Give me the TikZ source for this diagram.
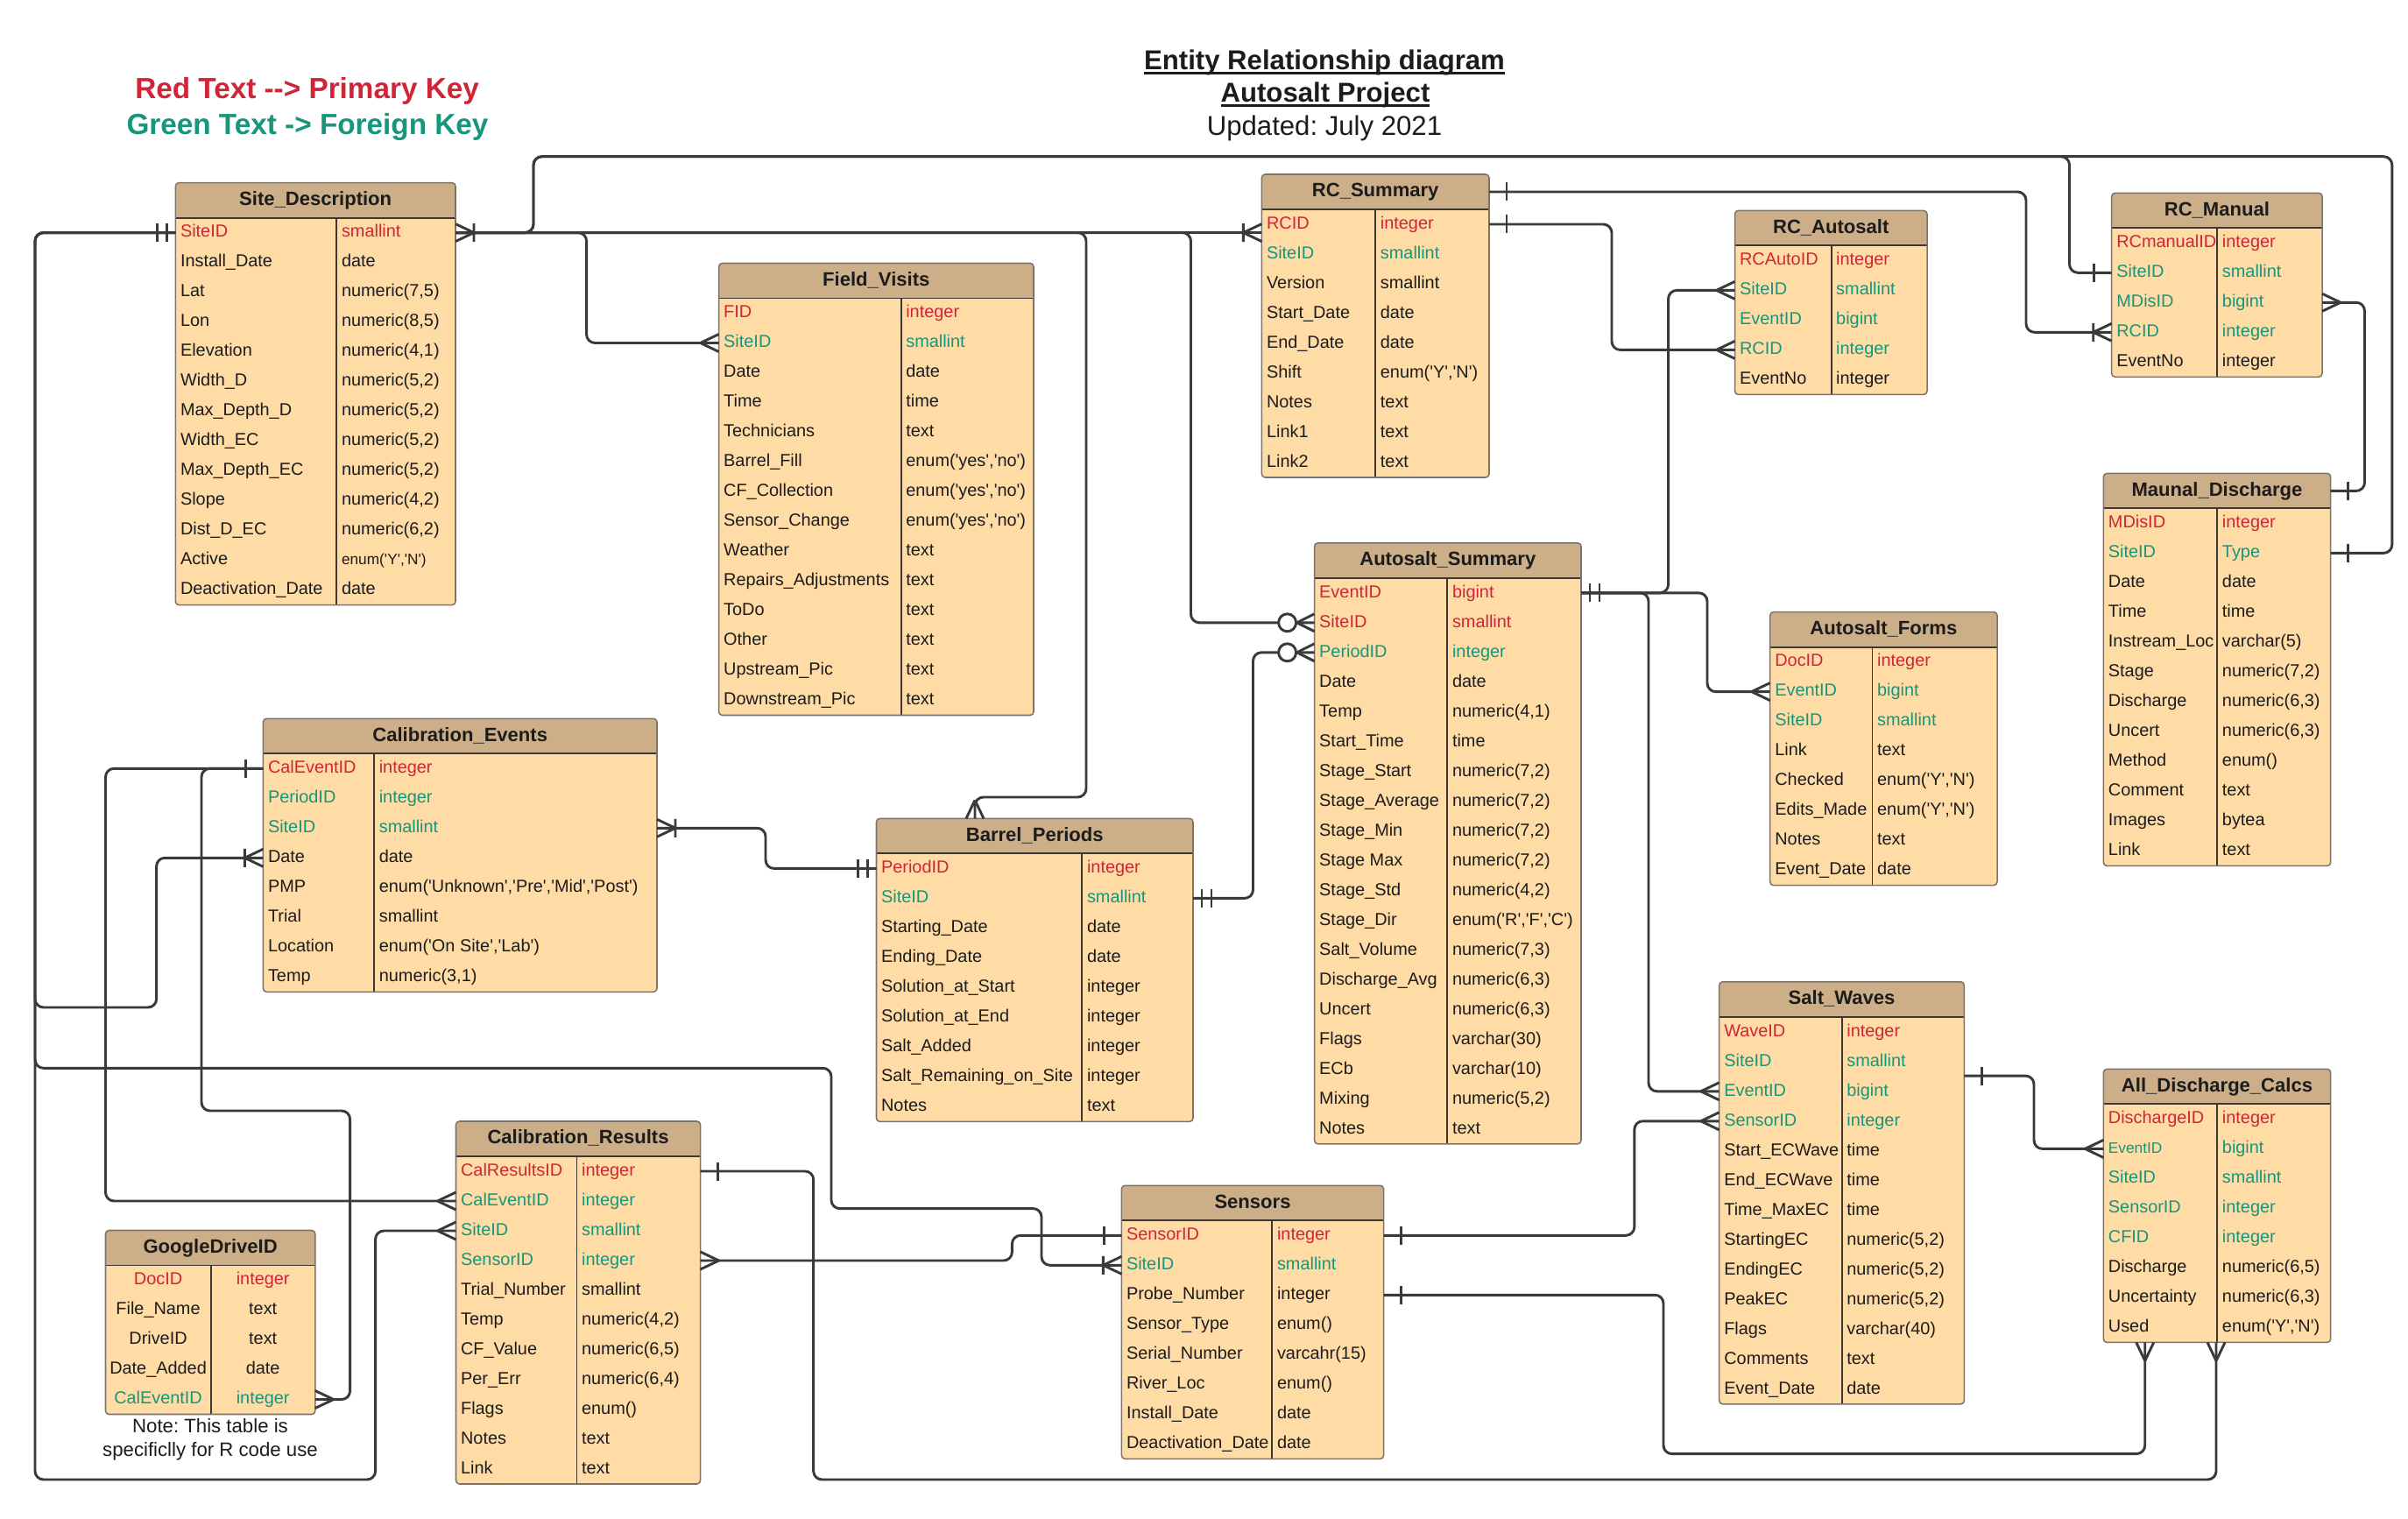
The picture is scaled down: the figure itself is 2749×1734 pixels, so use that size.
\documentclass[tikz,border=0pt]{standalone}
\usepackage{fontspec}
\setmainfont{Liberation Sans}[Ligatures=TeXOff]
\frenchspacing
\definecolor{bodyc}{RGB}{255,219,166}
\definecolor{hdrc}{RGB}{204,175,137}
\definecolor{bordc}{RGB}{125,115,105}
\definecolor{sepc}{RGB}{60,55,50}
\definecolor{pk}{RGB}{206,38,56}
\definecolor{fk}{RGB}{22,150,122}
\definecolor{nm}{RGB}{28,28,28}
\definecolor{connc}{RGB}{58,58,58}
\newcommand\pxu{0.0114cm}
\newif\ifctr
\newcommand\sm[1]{{\fontsize{5.6}{6.5}\selectfont #1}}
\newsavebox\ulbox
\newcommand\ulx[1]{\sbox\ulbox{#1}\rlap{\rule[-1.5pt]{\wd\ulbox}{0.9pt}}\usebox\ulbox}
\tikzset{
 tbl/.style={inner sep=0pt, outer sep=0pt, anchor=north west},
 fld/.style={inner sep=0pt, font=\fontsize{6.45}{7.5}\selectfont, text height=4.8pt, text depth=1.4pt},
 hdrtext/.style={inner sep=0pt, font=\fontsize{7.15}{8.5}\selectfont\bfseries, text=nm, text height=5.3pt, text depth=1.5pt},
 conn/.style={draw=connc, line width=0.95pt, rounded corners=1.1mm},
 mk/.style={draw=connc, line width=0.95pt},
 ttlb/.style={inner sep=0pt, anchor=base, font=\fontsize{10.1}{12}\selectfont\bfseries, text=nm},
 ttlr/.style={inner sep=0pt, anchor=base, font=\fontsize{10.1}{12}\selectfont, text=nm},
 legend/.style={inner sep=0pt, anchor=base, font=\fontsize{10.8}{13}\selectfont\bfseries},
}
\newcommand\ertable[8]{%
 \pgfmathsetmacro\tbot{#3+40+34*#6}%
 \node[tbl, minimum width={(#4-#2)*\pxu}, minimum height={(\tbot-#3)*\pxu}] (#1) at (#2,#3) {};
 \fill[bodyc, rounded corners=0.45mm] (#2,#3) rectangle (#4,\tbot);
 \begin{scope}
  \clip[rounded corners=0.45mm] (#2,#3) rectangle (#4,\tbot);
  \fill[hdrc] (#2,#3) rectangle (#4,#3+40);
 \end{scope}
 \draw[sepc, line width=0.6pt] (#2,#3+40) -- (#4,#3+40) (#5,#3+40) -- (#5,\tbot);
 \draw[bordc, line width=0.5pt, rounded corners=0.45mm] (#2,#3) rectangle (#4,\tbot);
 \node[hdrtext] (#1-title) at ({(#2+#4)/2},#3+20) {#7};
 \coordinate (#1-h-e) at (#4,#3+20);
 \foreach[count=\ri] \cl/\fn/\ty in {#8}{%
   \pgfmathsetmacro\yy{#3+40+34*\ri-17}%
   \ifctr
    \node[fld, text=\cl] (#1-\ri-a) at ({(#2+#5)/2},\yy) {\fn};
    \node[fld, text=\cl] (#1-\ri-b) at ({(#5+#4)/2},\yy) {\ty};
   \else
    \node[fld, text=\cl, anchor=west] (#1-\ri-a) at (#2+5,\yy) {\fn};
    \node[fld, text=\cl, anchor=west] (#1-\ri-b) at (#5+5,\yy) {\ty};
   \fi
   \coordinate (#1-\ri-w) at (#2,\yy);
   \coordinate (#1-\ri-e) at (#4,\yy);
 }%
}
\newcommand\mkmany[2]{\begin{scope}[shift={(#1)},rotate=#2]\draw[mk] (21,0) -- (0,10) (21,0) -- (0,-10);\end{scope}}
\newcommand\mkone[2]{\begin{scope}[shift={(#1)},rotate=#2]\draw[mk] (20,-10.5) -- (20,10.5);\end{scope}}
\newcommand\mktwo[2]{\begin{scope}[shift={(#1)},rotate=#2]\draw[mk] (10,-10.5) -- (10,10.5) (21,-10.5) -- (21,10.5);\end{scope}}
\newcommand\mkonemany[2]{\begin{scope}[shift={(#1)},rotate=#2]\draw[mk] (21,0) -- (0,10) (21,0) -- (0,-10) (21,-10.5) -- (21,10.5);\end{scope}}
\newcommand\mkzeromany[2]{\begin{scope}[shift={(#1)},rotate=#2]\draw[mk] (20,0) -- (0,10) (20,0) -- (0,-10); \draw[mk, fill=white] (31,0) circle[radius=10];\end{scope}}

\begin{document}
\begin{tikzpicture}[x=0.0114cm, y=-0.0114cm]
\fill[white] (0,0) rectangle (2749,1734);
\useasboundingbox (0,0) rectangle (2749,1734);

% legend and title
\node[legend, text=pk] (leg1) at (350.6,113) {Red Text -{}-{}> Primary Key};
\node[legend, text=fk] (leg2) at (351,153.6) {Green Text -{}> Foreign Key};
\node[ttlb] (ttl1) at (1512,80) {\ulx{Entity Relationship diagram}};
\node[ttlb] (ttl2) at (1513,117) {\ulx{Autosalt Project}};
\node[ttlr] (ttl3) at (1512,154.5) {Updated: July 2021};

% tables
\ertable{site}{200.4}{208.6}{520}{384.4}{13}{Site\_Description}{pk/SiteID/smallint,
 nm/Install\_Date/date, nm/Lat/{numeric(7,5)}, nm/Lon/{numeric(8,5)}, nm/Elevation/{numeric(4,1)},
 nm/Width\_D/{numeric(5,2)}, nm/Max\_Depth\_D/{numeric(5,2)}, nm/Width\_EC/{numeric(5,2)},
 nm/Max\_Depth\_EC/{numeric(5,2)}, nm/Slope/{numeric(4,2)}, nm/Dist\_D\_EC/{numeric(6,2)},
 nm/Active/{\sm{enum('Y','N')}}, nm/Deactivation\_Date/date}

\ertable{fv}{820.6}{300.5}{1180}{1028.7}{14}{Field\_Visits}{pk/FID/integer,
 fk/SiteID/smallint, nm/Date/date, nm/Time/time, nm/Technicians/text,
 nm/Barrel\_Fill/{enum('yes','no')}, nm/CF\_Collection/{enum('yes','no')},
 nm/Sensor\_Change/{enum('yes','no')}, nm/Weather/text, nm/Repairs\_Adjustments/text,
 nm/ToDo/text, nm/Other/text, nm/Upstream\_Pic/text, nm/Downstream\_Pic/text}

\ertable{rcsum}{1440.4}{199}{1700}{1570.3}{9}{RC\_Summary}{pk/RCID/integer,
 fk/SiteID/smallint, nm/Version/smallint, nm/Start\_Date/date, nm/End\_Date/date,
 nm/Shift/{enum('Y','N')}, nm/Notes/text, nm/Link1/text, nm/Link2/text}

\ertable{rca}{1980.5}{240.4}{2200}{2090.6}{5}{RC\_Autosalt}{pk/RCAutoID/integer,
 fk/SiteID/smallint, fk/EventID/bigint, fk/RCID/integer, nm/EventNo/integer}

\ertable{rcman}{2410.7}{220.3}{2651}{2531.3}{5}{RC\_Manual}{pk/RCmanualID/integer,
 fk/SiteID/smallint, fk/MDisID/bigint, fk/RCID/integer, nm/EventNo/integer}

\ertable{mdis}{2401.3}{540.4}{2660.7}{2531.3}{12}{Maunal\_Discharge}{pk/MDisID/integer,
 fk/SiteID/Type, nm/Date/date, nm/Time/time, nm/Instream\_Loc/{varchar(5)},
 nm/Stage/{numeric(7,2)}, nm/Discharge/{numeric(6,3)}, nm/Uncert/{numeric(6,3)},
 nm/Method/enum(), nm/Comment/text, nm/Images/bytea, nm/Link/text}

\ertable{calev}{300.4}{820.3}{750}{427.2}{8}{Calibration\_Events}{pk/CalEventID/integer,
 fk/PeriodID/integer, fk/SiteID/smallint, nm/Date/date,
 nm/PMP/{enum('Unknown','Pre','Mid','Post')}, nm/Trial/smallint,
 nm/Location/{enum('On Site','Lab')}, nm/Temp/{numeric(3,1)}}

\ertable{bp}{1000.5}{934.4}{1362}{1235.4}{9}{Barrel\_Periods}{pk/PeriodID/integer,
 fk/SiteID/smallint, nm/Starting\_Date/date, nm/Ending\_Date/date,
 nm/Solution\_at\_Start/integer, nm/Solution\_at\_End/integer, nm/Salt\_Added/integer,
 nm/Salt\_Remaining\_on\_Site/integer, nm/Notes/text}

\ertable{asum}{1500.6}{619.8}{1805}{1652.4}{19}{Autosalt\_Summary}{pk/EventID/bigint,
 pk/SiteID/smallint, fk/PeriodID/integer, nm/Date/date, nm/Temp/{numeric(4,1)},
 nm/Start\_Time/time, nm/Stage\_Start/{numeric(7,2)}, nm/Stage\_Average/{numeric(7,2)},
 nm/Stage\_Min/{numeric(7,2)}, nm/Stage Max/{numeric(7,2)}, nm/Stage\_Std/{numeric(4,2)},
 nm/Stage\_Dir/{enum('R','F','C')}, nm/Salt\_Volume/{numeric(7,3)},
 nm/Discharge\_Avg/{numeric(6,3)}, nm/Uncert/{numeric(6,3)}, nm/Flags/{varchar(30)},
 nm/ECb/{varchar(10)}, nm/Mixing/{numeric(5,2)}, nm/Notes/text}

\ertable{af}{2020.7}{698.6}{2280}{2137.5}{8}{Autosalt\_Forms}{pk/DocID/integer,
 fk/EventID/bigint, fk/SiteID/smallint, nm/Link/text, nm/Checked/{enum('Y','N')},
 nm/Edits\_Made/{enum('Y','N')}, nm/Notes/text, nm/Event\_Date/date}

\ertable{sw}{1962.7}{1120.8}{2242.4}{2102.7}{13}{Salt\_Waves}{pk/WaveID/integer,
 fk/SiteID/smallint, fk/EventID/bigint, fk/SensorID/integer, nm/Start\_ECWave/time,
 nm/End\_ECWave/time, nm/Time\_MaxEC/time, nm/StartingEC/{numeric(5,2)},
 nm/EndingEC/{numeric(5,2)}, nm/PeakEC/{numeric(5,2)}, nm/Flags/{varchar(40)},
 nm/Comments/text, nm/Event\_Date/date}

\ertable{adc}{2401.3}{1220.4}{2660.7}{2531.3}{8}{All\_Discharge\_Calcs}{pk/DischargeID/integer,
 fk/{\sm{EventID}}/bigint, fk/SiteID/smallint, fk/SensorID/integer, fk/CFID/integer,
 nm/Discharge/{numeric(6,5)}, nm/Uncertainty/{numeric(6,3)}, nm/Used/{enum('Y','N')}}

\ertable{calres}{520.5}{1280}{799.6}{658.5}{11}{Calibration\_Results}{pk/CalResultsID/integer,
 fk/CalEventID/integer, fk/SiteID/smallint, fk/SensorID/integer, nm/Trial\_Number/smallint,
 nm/Temp/{numeric(4,2)}, nm/CF\_Value/{numeric(6,5)}, nm/Per\_Err/{numeric(6,4)},
 nm/Flags/enum(), nm/Notes/text, nm/Link/text}

\ctrtrue
\ertable{gd}{120.5}{1404.5}{359.8}{240.6}{5}{GoogleDriveID}{pk/DocID/integer,
 nm/File\_Name/text, nm/DriveID/text, nm/Date\_Added/date, fk/CalEventID/integer}
\ctrfalse

\ertable{sens}{1280.4}{1353.3}{1579.6}{1452.4}{8}{Sensors}{pk/SensorID/integer,
 fk/SiteID/smallint, nm/Probe\_Number/integer, nm/Sensor\_Type/enum(),
 nm/Serial\_Number/{varcahr(15)}, nm/River\_Loc/enum(), nm/Install\_Date/date,
 nm/Deactivation\_Date/date}

\node[inner sep=0pt, align=center, font=\fontsize{7.2}{8.73}\selectfont, text=nm] (gdnote) at (240,1643.5) {Note: This table is\\specificlly for R code use};

% helper coordinates
\coordinate (rcsumIn) at (rcsum.west |- site-1-e);
\path (bp.north west) ++(112.5,0) coordinate (bpTop);
\path (adc.south west) ++(47.4,0) coordinate (adcB1);
\path (adc.south west) ++(128.7,0) coordinate (adcB2);
\path (sw.north east) ++(0,107.3) coordinate (swEv);

% connectors
\draw[conn] (site-1-w) -| (40,1150) -| (178.6,0 |- calev-4-w) -- (calev-4-w);
\draw[conn] (site-1-w) -| (40,1219.3) -| (949,1379.6) -| (1189,0 |- sens-2-w) -- (sens-2-w);
\draw[conn] (site-1-w) -| (40,1689) -| (428.6,0 |- calres-3-w) -- (calres-3-w);
\draw[conn] (site-1-e) -- (rcsumIn);
\draw[conn] (site-1-e) -| (609,178.7) -| (2730.8,0 |- mdis-2-e) -- (mdis-2-e);
\draw[conn] (site-1-e) -| (609,178.7) -| (2362.5,0 |- rcman-2-w) -- (rcman-2-w);
\draw[conn] (site-1-e) -| (669.6,0 |- fv-2-w) -- (fv-2-w);
\draw[conn] (site-1-e) -| (1240,910) -| (bpTop);
\draw[conn] (site-1-e) -| (1359.5,0 |- asum-2-w) -- (asum-2-w);
\draw[conn] (rcsum-h-e) -| (2313,0 |- rcman-4-w) -- (rcman-4-w);
\draw[conn] (rcsum-1-e) -| (1840,0 |- rca-4-w) -- (rca-4-w);
\draw[conn] (asum-1-e) -| (1904.6,0 |- rca-2-w) -- (rca-2-w);
\draw[conn] (asum-1-e) -| (1949,0 |- af-2-w) -- (af-2-w);
\draw[conn] (asum-1-e) -| (1882,0 |- sw-3-w) -- (sw-3-w);
\draw[conn] (swEv) -| (2322,0 |- adc-2-w) -- (adc-2-w);
\draw[conn] (bp-2-e) -| (1430.5,0 |- asum-3-w) -- (asum-3-w);
\draw[conn] (calev-3-e) -| (874,0 |- bp-1-w) -- (bp-1-w);
\draw[conn] (calev-1-w) -| (120.5,0 |- calres-2-w) -- (calres-2-w);
\draw[conn] (calev-1-w) -| (230,1268) -| (399.6,0 |- gd-5-e) -- (gd-5-e);
\draw[conn] (calres-1-e) -| (928.7,1689) -| (adcB2);
\draw[conn] (calres-4-e) -| (1155.4,0 |- sens-1-w) -- (sens-1-w);
\draw[conn] (sens-1-e) -| (1865.8,0 |- sw-4-w) -- (sw-4-w);
\draw[conn] (sens-3-e) -| (1899,1659.6) -| (adcB1);
\draw[conn] (rcman-3-e) -| (2699.5,0 |- mdis-h-e) -- (mdis-h-e);

% end marks
\mktwo{site-1-w}{180}
\mkonemany{site-1-e}{0}
\mkonemany{rcsumIn}{180}
\mkone{mdis-2-e}{0}
\mkone{rcman-2-w}{180}
\mkmany{fv-2-w}{180}
\mkmany{bpTop}{90}
\mkzeromany{asum-2-w}{180}
\mkone{rcsum-h-e}{0}
\mkonemany{rcman-4-w}{180}
\mkone{rcsum-1-e}{0}
\mkmany{rca-4-w}{180}
\mktwo{asum-1-e}{0}
\mkmany{rca-2-w}{180}
\mkmany{af-2-w}{180}
\mkmany{sw-3-w}{180}
\mkone{swEv}{0}
\mkmany{adc-2-w}{180}
\mktwo{bp-2-e}{0}
\mkzeromany{asum-3-w}{180}
\mkonemany{calev-3-e}{0}
\mktwo{bp-1-w}{180}
\mkone{calev-1-w}{180}
\mkmany{calres-2-w}{180}
\mkmany{gd-5-e}{0}
\mkonemany{calev-4-w}{180}
\mkonemany{sens-2-w}{180}
\mkmany{calres-3-w}{180}
\mkone{calres-1-e}{0}
\mkmany{adcB2}{-90}
\mkmany{calres-4-e}{0}
\mkone{sens-1-w}{180}
\mkone{sens-1-e}{0}
\mkmany{sw-4-w}{180}
\mkone{sens-3-e}{0}
\mkmany{adcB1}{-90}
\mkmany{rcman-3-e}{0}
\mkone{mdis-h-e}{0}
\end{tikzpicture}
\end{document}
